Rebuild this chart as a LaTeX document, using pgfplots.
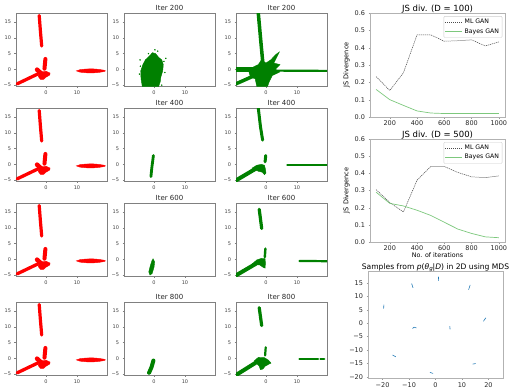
\documentclass[border=0pt]{standalone}
\usepackage{pgfplots}
\pgfplotsset{compat=1.18}
\usepackage{fontspec}
\setmainfont{DejaVu Sans}
\definecolor{mred}{RGB}{255,0,0}
\definecolor{mgreen}{RGB}{0,128,0}
\definecolor{lgreen}{RGB}{125,200,125}
\definecolor{mblue}{RGB}{31,119,180}
\pgfplotsset{
  gridax/.style={scale only axis, width=91pt, height=73pt, anchor=north west,
    xmin=-9.7, xmax=19.7, ymin=-5.3, ymax=17.9,
    xtick={0,10}, xticklabels={0,10},
    ytick={-5,0,5,10,15}, yticklabels={−5,0,5,10,15},
    tick label style={font=\fontsize{5}{6}\selectfont, text=black!75},
    axis line style={black!50, line width=0.8pt},
    major tick length=1.5pt, tick style={black!50, line width=0.4pt},
    tick align=outside, xtick pos=bottom, ytick pos=left,
    title style={font=\fontsize{7}{8}\selectfont, yshift=-7.5pt, text=black!85},
    clip=true},
  blob/.style={line width=#1, line cap=round, line join=round},
  gfill/.style={fill=mgreen, draw=mgreen, line width=0.4pt},
  rfill/.style={fill=mred, draw=mred, line width=0.4pt},
  jsax/.style={scale only axis, width=135pt, anchor=north west,
    xmin=55, xmax=1045, ymin=0, ymax=0.6,
    xtick={200,400,600,800,1000}, xticklabels={200,400,600,800,1000},
    ytick={0,0.1,0.2,0.3,0.4,0.5,0.6}, yticklabels={0.0,0.1,0.2,0.3,0.4,0.5,0.6},
    tick label style={font=\fontsize{6.5}{7}\selectfont, text=black!85},
    xticklabel style={yshift=1pt},
    axis line style={black!30, line width=0.6pt}, tick style={black!40},
    major tick length=1.5pt, tick align=outside, xtick pos=bottom, ytick pos=left,
    ylabel={JS Divergence}, ylabel style={font=\fontsize{6.5}{7}\selectfont, yshift=-2pt},
    title style={font=\fontsize{8.5}{9}\selectfont, yshift=-10pt},
    legend style={at={(0.98,0.97)}, anchor=north east, draw=black!20, rounded corners=1pt,
      font=\fontsize{6.2}{7}\selectfont, inner sep=1pt, row sep=-1pt},
    legend cell align=left},
  mlstyle/.style={black!70, dash pattern=on 1.2pt off 0.8pt, line width=0.5pt},
  bgstyle/.style={lgreen, line width=0.7pt},
}
\newcommand\redtarget{%
  \addplot[mred, blob=3.2pt] coordinates {(-2.2,17.1) (-1.8,12) (-1.4,7.4)};
  \addplot[rfill] coordinates {(9.8,-0.5) (11,-0.1) (13,0.1) (15,0.15) (17,0) (18.8,-0.3) (19.2,-0.5) (18.8,-0.7) (17,-1) (15,-1.15) (13,-1.1) (11,-0.9)} -- cycle;
  \addplot[mred, blob=3.3pt] coordinates {(-9.3,-4.6) (-2.7,-1.5)};
  \addplot[mred, blob=4pt] coordinates {(-0.5,0.2) (-0.2,3.3)};
  \addplot[mred, blob=4.5pt] coordinates {(-2.9,-0.1) (-1.6,-1.3)};
  \addplot[rfill] coordinates {(-2.3,-0.5) (-1,-0.8) (0,-0.6) (1.3,-1.2) (1.2,-1.8) (0,-2.5) (-0.8,-3.2) (-1.8,-3.2) (-2.5,-2.3)} -- cycle;
}
\begin{document}
\begin{tikzpicture}
\useasboundingbox (0pt,0pt) rectangle (516pt,-389pt);
% ---------- column 1 (target, red) ----------
\begin{axis}[gridax, at={(16pt,-13pt)}] \redtarget \end{axis}
\begin{axis}[gridax, at={(16pt,-108pt)}] \redtarget \end{axis}
\begin{axis}[gridax, at={(16pt,-203pt)}] \redtarget \end{axis}
\begin{axis}[gridax, at={(16pt,-302pt)}] \redtarget \end{axis}
% ---------- column 2 ----------
\begin{axis}[gridax, at={(124pt,-13pt)}, title={Iter 200}]
  \addplot[gfill] coordinates {(-3.8,-5.4) (-4.2,-3) (-4.3,-0.5) (-3.6,1.5) (-2.8,3) (-1.5,4.2) (-0.5,5.3) (0.5,5) (1.5,3.8) (2.5,3) (3,1.5) (2.8,-0.5) (2.2,-2.5) (2,-4) (1.5,-5.4)} -- cycle;
  \addplot[only marks, mgreen, mark=*, mark size=0.5pt] coordinates {(0.3,6.2) (1.2,5.8) (3.8,3.5) (-4.5,3) (3.5,-1) (-4.7,-1.5) (2.5,-5) (-1.8,5) (3.2,2.5) (-4.4,1)};
\end{axis}
\begin{axis}[gridax, at={(124pt,-108pt)}, title={Iter 400}]
  \addplot[mgreen, blob=2.8pt] coordinates {(-1,-3.9) (-0.7,-1) (-0.2,2.8)};
\end{axis}
\begin{axis}[gridax, at={(124pt,-203pt)}, title={Iter 600}]
  \addplot[gfill] coordinates {(-0.3,0.2) (0.2,-0.8) (0,-2.5) (-0.6,-4.5) (-1.3,-5) (-1.7,-4) (-1.2,-2) (-0.7,-0.5)} -- cycle;
\end{axis}
\begin{axis}[gridax, at={(124pt,-302pt)}, title={Iter 800}]
  \addplot[mgreen, blob=4pt] coordinates {(-0.2,-0.7) (-0.8,-2.8) (-1.6,-4.6)};
\end{axis}
% ---------- column 3 ----------
\begin{axis}[gridax, at={(236pt,-13pt)}, title={Iter 200}]
  \addplot[mgreen, blob=3.5pt] coordinates {(-2.5,17.9) (-1.6,8) (-0.9,0.7)};
  \addplot[mgreen, blob=4.5pt] coordinates {(-9.7,-0.1) (-3,-0.1)};
  \addplot[mgreen, blob=2.2pt] coordinates {(2,-0.4) (19.7,-0.5)};
  \addplot[mgreen, blob=3.5pt] coordinates {(-9.7,-4.6) (-3.5,-1.9)};
  \addplot[gfill] coordinates {(-5.5,-1) (-4,0.8) (-2.5,1.5) (-1.5,3) (0,2) (1.5,3) (3.3,4.8) (4.3,5.5) (2.5,2) (4.5,1.5) (3,0) (4.5,-0.8) (2,-2) (1,-4) (0.5,-5.4) (-3,-5.4) (-3.5,-3) (-5,-2.5)} -- cycle;
\end{axis}
\begin{axis}[gridax, at={(236pt,-108pt)}, title={Iter 400}]
  \addplot[mgreen, blob=3pt] coordinates {(-2.5,17.9) (-1.8,12) (-1.1,7.7)};
  \addplot[mgreen, blob=3pt] coordinates {(-0.3,0.8) (-0.1,2.8)};
  \addplot[mgreen, blob=4pt] coordinates {(-9.7,-5.1) (-3,-1.2)};
  \addplot[gfill] coordinates {(-4.5,-1.2) (-3,-0.3) (-1.5,0) (-0.5,-0.3) (-0.2,-1.5) (0,-2.8) (-0.5,-3.3) (-1.2,-2.5) (-2.5,-2.2)} -- cycle;
  \addplot[mgreen, blob=2.4pt] coordinates {(6.9,-0.3) (19.7,-0.3)};
\end{axis}
\begin{axis}[gridax, at={(236pt,-203pt)}, title={Iter 600}]
  \addplot[mgreen, blob=3.2pt] coordinates {(-2.2,15.9) (-1.4,9.8)};
  \addplot[mgreen, blob=2.4pt] coordinates {(-0.4,0.7) (-0.2,3.4)};
  \addplot[mgreen, blob=4pt] coordinates {(-9.7,-5.1) (-1.9,-0.6)};
  \addplot[gfill] coordinates {(-4.5,-1.5) (-3,-0.2) (-1.5,0.3) (-0.3,0.2) (-0.2,-1.2) (-0.3,-2.8) (-1,-2.5) (-2,-1.8)} -- cycle;
  \addplot[mgreen, blob=2.2pt] coordinates {(10.8,-0.5) (19.7,-0.6)};
\end{axis}
\begin{axis}[gridax, at={(236pt,-302pt)}, title={Iter 800}]
  \addplot[mgreen, blob=3.2pt] coordinates {(-2.2,16.1) (-1.4,10.4)};
  \addplot[mgreen, blob=2.2pt] coordinates {(-0.3,0.9) (-0.1,3.5)};
  \addplot[mgreen, blob=4pt] coordinates {(-9.7,-5.3) (-2.2,-0.7)};
  \addplot[gfill] coordinates {(-3.8,-0.8) (-2.5,0.3) (-0.5,0.2) (0.8,-0.6) (1.6,-1.5) (-0.3,-2.5) (-1,-3.4) (-1.8,-3.6) (-2.2,-2.5)} -- cycle;
  \addplot[mgreen, blob=2.2pt] coordinates {(10.8,-0.2) (16.8,-0.2)};
  \addplot[mgreen, blob=2.2pt] coordinates {(17.6,-0.2) (18.8,-0.2)};
\end{axis}
% ---------- JS divergence D=100 ----------
\begin{axis}[jsax, height=104pt, at={(370pt,-13pt)}, title={JS div. (D = 100)}]
  \addplot[mlstyle] coordinates {(100,0.233) (200,0.153) (300,0.255) (400,0.474) (500,0.474) (600,0.437) (700,0.44) (800,0.445) (900,0.41) (1000,0.433)};
  \addlegendentry{ML GAN}
  \addplot[bgstyle] coordinates {(100,0.159) (200,0.10) (300,0.067) (400,0.035) (500,0.023) (600,0.02) (700,0.02) (800,0.02) (900,0.02) (1000,0.02)};
  \addlegendentry{Bayes GAN}
\end{axis}
% ---------- JS divergence D=500 ----------
\begin{axis}[jsax, height=103pt, at={(370pt,-139pt)}, title={JS div. (D = 500)},
  xlabel={No. of iterations}, xlabel style={font=\fontsize{6.3}{7}\selectfont, yshift=5pt}]
  \addplot[mlstyle] coordinates {(100,0.305) (200,0.23) (300,0.175) (400,0.36) (500,0.44) (600,0.44) (700,0.405) (800,0.38) (900,0.375) (1000,0.385)};
  \addlegendentry{ML GAN}
  \addplot[bgstyle] coordinates {(100,0.29) (200,0.225) (300,0.21) (400,0.185) (500,0.155) (600,0.115) (700,0.075) (800,0.05) (900,0.03) (1000,0.025)};
  \addlegendentry{Bayes GAN}
\end{axis}
% ---------- MDS ----------
\begin{axis}[scale only axis, width=135pt, height=107pt, at={(368pt,-271pt)}, anchor=north west,
  xmin=-25.5, xmax=25.5, ymin=-20.5, ymax=19.5,
  xtick={-20,-10,0,10,20}, xticklabels={−20,−10,0,10,20},
  ytick={-20,-15,-10,-5,0,5,10,15}, yticklabels={−20,−15,−10,−5,0,5,10,15},
  tick label style={font=\fontsize{6.5}{7}\selectfont, text=black!85},
  axis line style={black!30, line width=0.6pt}, tick style={black!40},
  major tick length=1.5pt, tick align=outside, xtick pos=bottom, ytick pos=left,
  title={Samples from \textit{p}(\textit{θ}\raisebox{-0.35ex}{\fontsize{5.5}{6}\selectfont\textit{g}}|\textit{D}) in 2D using MDS},
  title style={font=\fontsize{7.6}{8}\selectfont, yshift=-10.5pt}]
  \addplot[mblue, line width=0.6pt] coordinates {(-9,14.8) (-8.5,13.2)};
  \addplot[mblue, line width=0.6pt] coordinates {(1.1,17.4) (1.2,15.8)};
  \addplot[mblue, line width=0.6pt] coordinates {(12.5,12.5) (13.1,14.3)};
  \addplot[mblue, line width=0.6pt] coordinates {(-19.6,5.4) (-19.5,6.9)};
  \addplot[mblue, line width=0.6pt] coordinates {(18.1,0.7) (19,2)};
  \addplot[mblue, line width=0.6pt] coordinates {(-8.7,-2) (-8.1,-1.5) (-7.2,-1.8)};
  \addplot[mblue, line width=0.6pt] coordinates {(5.4,-1.1) (5.5,-2.3)};
  \addplot[mblue, line width=0.6pt] coordinates {(-16.2,-11.9) (-15,-12.6)};
  \addplot[mblue, line width=0.6pt] coordinates {(14,-15.3) (15.2,-15.1)};
  \addplot[mblue, line width=0.6pt] coordinates {(-2.1,-18.4) (-0.9,-18.8)};
\end{axis}
\end{tikzpicture}
\end{document}
